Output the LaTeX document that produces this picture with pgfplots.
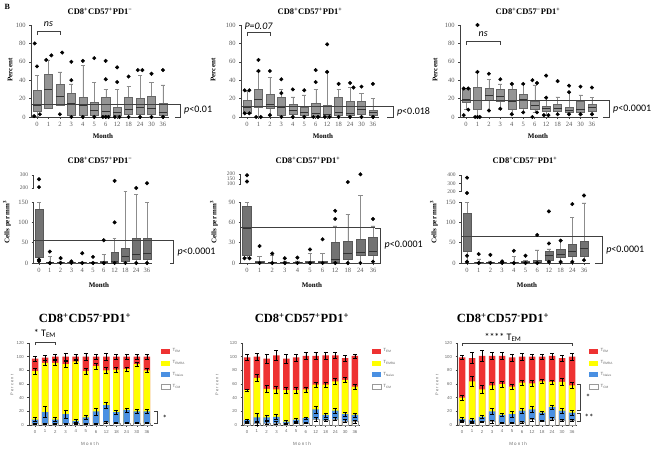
\documentclass[border=0pt]{standalone}
\usepackage{pgfplots}
\pgfplotsset{compat=1.18}
\usepackage{pgfplotstable}
\usepgfplotslibrary{statistics}
\usepackage{fontspec}
\setmainfont{Liberation Serif}
\newfontfamily\calfont{Carlito}
\newfontfamily\lsans{Liberation Sans}
\definecolor{tred}{RGB}{238,50,50}
\definecolor{tyel}{RGB}{255,255,0}
\definecolor{tblue}{RGB}{74,144,226}
\newcommand\ttl{\bfseries\fontsize{8.5}{9}\selectfont}
\newcommand\bttl{\bfseries\fontsize{12.5}{13}\selectfont}
\newcommand\lbl{\bfseries\fontsize{7}{8}\selectfont}
\newcommand\pvf{\calfont\fontsize{10}{11}\selectfont}
\newcommand\bx[6]{\addplot[bxs, boxplot prepared={draw position=#1, lower whisker=#2, lower quartile=#3, median=#4, upper quartile=#5, upper whisker=#6}] coordinates {};}
\tikzset{brk/.style={black!75, line width=0.5pt}}
\pgfplotsset{
  base/.style={scale only axis, anchor=south west, clip=false,
    axis x line*=bottom, axis y line*=left, tick align=outside,
    axis line style={black!75, line width=0.6pt},
    tick style={black!75, line width=0.5pt}, major tick length=2pt,
    ticklabel style={font=\fontsize{6.5}{7}\selectfont, text=black!65},
    /pgf/number format/assume math mode=true},
  toprow/.style={base, anchor=origin, width=137.4pt, height=92pt, xmin=-0.5, xmax=11.5,
    ymin=0, ymax=100, ytick={0,20,...,100}, xtick={0,...,11},
    xticklabels={0,1,2,3,4,5,6,12,18,24,30,36}},
  midrow/.style={base, anchor=origin, height=61pt, xmin=-0.5, xmax=10.5, ymin=0,
    xtick={0,...,10}, xticklabels={0,1,2,3,4,5,6,12,18,24,36}},
  midup/.style={base, axis x line=none, xmin=-0.5, xmax=10.5,
    ticklabel style={font=\fontsize{5.5}{6}\selectfont, text=black!65}},
  bxs/.style={draw=black!60, fill=black!42, line width=0.4pt, solid, mark=none,
    boxplot/draw direction=y,
    boxplot/box extend=0.7, boxplot/whisker extend=0.35,
    boxplot/every median/.style={draw=black!80, line width=0.6pt},
    boxplot/every whisker/.style={draw=black!45}},
  outl/.style={only marks, mark=*, mark size=1.8pt, black},
  basel/.style={black!75, line width=0.6pt, mark=none},
  botrow/.style={base, ybar, height=82pt, ymin=0, ymax=120, ytick={0,20,...,120},
    xtick={0,...,11}, xticklabels={0,1,2,3,4,5,6,12,18,24,30,36},
    ticklabel style={font=\lsans\fontsize{4.3}{4.5}\selectfont, text=black!60},
    major tick length=1.5pt,
    legend style={draw=none, fill=none, at={(1,0.98)}, anchor=north west,
      font=\lsans\fontsize{4.5}{5}\selectfont\color{black!60}, row sep=3.3pt,
      legend cell align=left},
    legend image code/.code={\path[#1] (0pt,-2.5pt) rectangle (9pt,2.5pt);}},
  segR/.style={bar width=6.5pt, bar shift=0pt, fill=tred, draw=none,
    error bars/y dir=both, error bars/y explicit,
    error bars/error bar style={black, line width=0.35pt}},
  segY/.style={segR, fill=tyel},
  segB/.style={segR, fill=tblue},
  segW/.style={segR, fill=white, draw=black!40, line width=0.3pt},
}
\pgfplotstableread{
x w b y r ew eb ey er
0 2 8 79 97 1 3 4 4
1 2 19 91 98.5 1 8 4 3
2 2 8 91 100 1 3 4 4
3 2 16 89 100 1 6 5 5
4 2 6 93 100 1 2 2 3
5 2 11 79 100 1 3 4 5
6 2 20 86 100 1 5 4 4
7 4 29 80 100 2 5 4 5
8 3 19 81 100 1 3 3 3
9 3 22 82 100 1 3 3 3
10 3 20 89 100 1 3 3 3
11 3 20 80 100 1 3 3 3
}\dataA
\pgfplotstableread{
x w b y r ew eb ey er
0 3 7 51 99 1 2 2 4
1 2 11 69 100 2 6 5 5
2 3 11 53 97 2 4 5 7
3 3 12 52 102 2 4 5 7
4 2 5 51 97 1 2 4 6
5 3 8 51 99 1 2 4 5
6 3 10 52 101 1 2 4 5
7 9 23 59 101 3 5 4 5
8 7 15 59 102 2 3 4 5
9 9 21 64 102 2 3 4 4
10 6 16 66 98 2 3 4 4
11 5 15 56 101 2 3 3 3
}\dataB
\pgfplotstableread{
x w b y r ew eb ey er
0 5 9 40 99 1 2 3 3
1 3 8 64 98 1 2 7 8
2 5 12 52 101 1 2 6 8
3 5 20 58 101 2 4 5 5
4 3 15 60 101 1 2 4 5
5 3 16 56 99 1 4 4 5
6 4 21 62 100 1 3 4 5
7 8 23 61 100 2 4 4 4
8 6 18 64 100 1 2 3 4
9 9 26 63 101 2 3 3 4
10 7 21 63 98 1 3 5 4
11 7 18 58 100 1 3 4 5
}\dataC
\begin{document}
\begin{tikzpicture}[x=1pt,y=1pt]
% ---------- panel 1 ----------
\begin{axis}[toprow, at={(37pt,331pt)}]
\bx{0}{1}{6}{13}{29}{45}
\bx{1}{10}{10}{30}{47}{62}
\bx{2}{13}{13}{22}{36}{49}
\bx{3}{2}{2}{15}{26}{36}
\bx{4}{0}{2}{13}{21}{56}
\bx{5}{0}{2}{7}{16}{38}
\bx{6}{0}{2}{6}{22}{30}
\bx{7}{0}{2}{5}{11}{30}
\bx{8}{0}{3}{8}{22}{33}
\bx{9}{0}{3}{10}{20}{45}
\bx{10}{0}{3}{9}{23}{38}
\bx{11}{0}{2}{5}{15}{35}
\addplot[outl] coordinates {(-0.2,80) (0,55) (-0.25,1) (0.25,3) (0.8,62) (1.25,67) (2.2,70) (2,3) (3,60) (3,40) (3,0) (4,61) (4,0) (5,64) (5,0) (6,61) (6,41) (5.75,0) (6,0) (6.25,0) (7,54) (7,38) (6.8,0) (7.2,0) (8,44) (8,0) (8.8,51) (9.2,51) (9,0) (10,47) (10,0) (11,51) (11,0)};
\addplot[basel] coordinates {(-0.5,14) (12.05,14)};
\draw[brk] (axis cs:0,89) |- (axis cs:2,93) -- (axis cs:2,89);
\node[font=\calfont\itshape\fontsize{10}{10}\selectfont] at (axis cs:1,101) {ns};
\draw[brk] (axis cs:12.05,14) -| (axis cs:12.5,0) -- (axis cs:12.05,0);
\node[font=\pvf, anchor=west] at (axis cs:12.55,7) {\textit{p}<0.01};
\end{axis}
% ---------- panel 2 ----------
\begin{axis}[toprow, at={(247pt,331pt)}]
\bx{0}{4}{4}{11}{18}{28}
\bx{1}{0}{11}{19}{30}{50}
\bx{2}{2}{10}{14}{25}{43}
\bx{3}{0}{2}{11}{21}{30}
\bx{4}{0}{3}{7}{14}{22}
\bx{5}{0}{2}{5}{11}{24}
\bx{6}{0}{1}{4}{15}{30}
\bx{7}{0}{1}{3}{13}{49}
\bx{8}{0}{2}{5}{21}{30}
\bx{9}{0}{2}{4}{17}{32}
\bx{10}{0}{3}{8}{17}{26}
\bx{11}{0}{2}{5}{7}{20}
\addplot[outl] coordinates {(-0.2,29) (0.2,29) (-0.2,4) (0.2,4) (1,62) (1,50) (0.8,0) (1.2,0) (2,50) (2,2) (3,41) (3,26) (3,0) (4,30) (4,0) (5,29) (5,0) (6,51) (6,38) (5.8,0) (6.2,0) (7,79) (7,49) (6.8,0) (7.2,0) (8,36) (8,0) (9,37) (9.3,32) (9,0) (10,33) (10,0) (11,36) (11,0)};
\addplot[basel] coordinates {(-0.5,12) (12.22,12)};
\draw[brk] (axis cs:0,88) |- (axis cs:2,92) -- (axis cs:2,88);
\node[font=\calfont\itshape\fontsize{10}{10}\selectfont] at (axis cs:1,99) {P=0.07};
\draw[brk] (axis cs:12.22,12) -| (axis cs:12.75,0) -- (axis cs:12.22,0);
\node[font=\pvf, anchor=west] at (axis cs:12.8,6) {\textit{p}<0.018};
\end{axis}
% ---------- panel 3 ----------
\begin{axis}[toprow, at={(466pt,331pt)}]
\bx{0}{8}{16}{19}{31}{31}
\bx{1}{0}{9}{18}{32}{49}
\bx{2}{7}{18}{24}{31}{41}
\bx{3}{9}{17}{23}{30}{36}
\bx{4}{3}{9}{17}{30}{36}
\bx{5}{5}{10}{19}{25}{36}
\bx{6}{5}{9}{13}{17}{35}
\bx{7}{2}{6}{9}{12}{21}
\bx{8}{3}{6}{9}{14}{22}
\bx{9}{3}{5}{7}{11}{27}
\bx{10}{3}{5}{8}{17}{24}
\bx{11}{3}{6}{10}{14}{21}
\addplot[outl] coordinates {(-0.2,31) (0.2,31) (0.2,8) (-0.2,2) (1,100) (1,49) (0.8,0) (1,0) (1.2,0) (2,47) (2,7) (3,41) (3,9) (4,36) (4,3) (5,36) (5,5) (5.8,40) (6.2,37) (6.2,5) (5.8,0) (7,45) (7,21) (6.8,2) (7.2,2) (8,39) (8,3) (9,34) (9,27) (9,3) (10,33) (10,3) (11,32) (11,3)};
\addplot[basel] coordinates {(-0.5,18) (11.96,18)};
\draw[brk] (axis cs:0,78) |- (axis cs:3,82) -- (axis cs:3,78);
\node[font=\calfont\itshape\fontsize{10}{10}\selectfont] at (axis cs:1.5,90) {ns};
\draw[brk] (axis cs:11.96,18) -| (axis cs:12.49,0) -- (axis cs:11.96,0);
\node[font=\pvf, anchor=west] at (axis cs:12.55,9) {\textit{p}<0.0001};
\end{axis}
\pgfplotsset{bxs/.append style={fill=black!55, draw=black!65}}
% ---------- panel 4 ----------
\begin{axis}[midrow, width=118.8pt, at={(39pt,185pt)}, ymax=150, ytick={0,50,100,150}]
\bx{0}{10}{14}{55}{133}{150}
\bx{1}{0}{0}{1}{2}{17}
\bx{2}{0}{0}{1}{3}{5}
\bx{3}{0}{0}{1}{2}{3}
\bx{4}{0}{0}{1}{2}{3}
\bx{5}{0}{0}{1}{2}{3}
\bx{6}{0}{0}{1}{5}{22}
\bx{7}{0}{1}{3}{27}{60}
\bx{8}{0}{5}{17}{37}{176}
\bx{9}{0}{10}{22}{62}{168}
\bx{10}{0}{10}{25}{60}{150}
\addplot[outl] coordinates {(0,8) (0,5) (1,28) (1,0) (2,12) (2,0) (3,4) (3,0) (4,24) (4,0) (5,15) (5,0) (6,56) (6,0) (7,100) (7,0) (8,0) (9,0) (10,0)};
\addplot[basel] coordinates {(-0.5,55) (12.13,55)};
\draw[brk] (axis cs:12.13,55) -| (axis cs:12.4,0) -- (axis cs:12.13,0);
\node[font=\pvf, anchor=west] at (axis cs:12.5,27) {\textit{p}<0.0001};
\end{axis}
\begin{axis}[midup, width=118.8pt, height=13pt, at={(33.6pt,260pt)}, ymin=200, ymax=300, ytick={200,300}]
\addplot[outl] coordinates {(0,267) (0,207) (7,255) (9,200) (10,237)};
\end{axis}
% ---------- panel 5 ----------
\begin{axis}[midrow, width=138.6pt, at={(247pt,185pt)}, ymax=90, ytick={0,30,60,90}]
\bx{0}{8}{11}{51}{84}{90}
\bx{1}{0}{0}{1}{2}{10}
\bx{2}{0}{0}{0.5}{1}{12}
\bx{3}{0}{0}{0.5}{1}{3}
\bx{4}{0}{0}{0.5}{1}{3}
\bx{5}{0}{0}{1}{3}{14}
\bx{6}{0}{0}{1}{3}{14}
\bx{7}{0}{1}{5}{30}{55}
\bx{8}{0}{5}{14}{32}{72}
\bx{9}{0}{11}{16}{35}{100}
\bx{10}{2}{11}{17}{38}{55}
\addplot[outl] coordinates {(-0.2,7) (0.2,7) (1,25) (1,0) (2,14) (2,0) (3,7) (3,0) (4,8) (4,0) (5,20) (5,0) (6,35) (6,0) (7,77) (7,65) (7,0) (8,0) (9,0) (10,65) (10,2)};
\addplot[basel] coordinates {(-0.5,52) (10.16,52)};
\draw[brk] (axis cs:10.16,52) -| (axis cs:10.55,0) -- (axis cs:10.16,0);
\node[font=\pvf, anchor=west] at (axis cs:10.65,26) {\textit{p}<0.0001};
\end{axis}
\begin{axis}[midup, width=138.6pt, height=10pt, at={(240.7pt,264pt)}, ymin=100, ymax=200, ytick={100,150,200}]
\addplot[outl] coordinates {(0,187) (0,125) (8,119) (9,197)};
\end{axis}
% ---------- panel 6 ----------
\begin{axis}[midrow, width=128.7pt, at={(467pt,185pt)}, ymax=150, ytick={0,50,100,150}]
\bx{0}{3}{30}{65}{122}{150}
\bx{1}{0}{0}{1}{1}{10}
\bx{2}{0}{0}{1}{1}{5}
\bx{3}{0}{0}{1}{3}{3}
\bx{4}{0}{0}{1}{3}{17}
\bx{5}{0}{0}{2}{5}{7}
\bx{6}{0}{0}{2}{6}{32}
\bx{7}{3}{7}{18}{28}{35}
\bx{8}{3}{15}{22}{35}{55}
\bx{9}{3}{17}{29}{47}{112}
\bx{10}{7}{16}{35}{53}{148}
\addplot[outl] coordinates {(0,172) (0,18) (0,3) (1,22) (1,0) (2,20) (2,0) (3,4) (3,0) (4,30) (4,0) (5,18) (5,0) (6,69) (6,0) (7,127) (7,48) (7,3) (8,55) (8,3) (9,145) (9,3) (10,166) (10,7)};
\addplot[basel] coordinates {(-0.5,65) (10.94,65)};
\draw[brk] (axis cs:10.94,65) -| (axis cs:11.53,0) -- (axis cs:10.94,0);
\node[font=\pvf, anchor=west] at (axis cs:11.6,32) {\textit{p}<0.0001};
\end{axis}
\begin{axis}[midup, width=128.7pt, height=16.7pt, at={(461.2pt,256.3pt)}, ymin=200, ymax=400, ytick={200,300,400}]
\addplot[outl] coordinates {(0,368)};
\end{axis}
% ---------- panel 7 ----------
\begin{axis}[botrow, width=124.2pt, at={(28.9pt,23pt)}, xmin=-0.6, xmax=11.6, legend style={xshift=5pt}]
\addplot[segR] table[x=x, y=r, y error=er] {\dataA};
\addplot[segY] table[x=x, y=y, y error=ey] {\dataA};
\addplot[segB] table[x=x, y=b, y error=eb] {\dataA};
\addplot[segW] table[x=x, y=w, y error=ew] {\dataA};
\legend{T\textsubscript{EM}, T\textsubscript{EMRA}, T\textsubscript{Naive}, T\textsubscript{CM}}
\draw[brk] (axis cs:0,117) |- (axis cs:2,121) -- (axis cs:2,117);
\node[font=\calfont\fontsize{10}{10}\selectfont, anchor=west] at (axis cs:-0.45,134) {* T\textsubscript{EM}};
\draw[brk] (axis cs:11.7,20) -| (axis cs:11.98,3) -- (axis cs:11.7,3);
\node[font=\calfont\fontsize{9}{9}\selectfont] at (axis cs:12.76,10) {*};
\end{axis}
% ---------- panel 8 ----------
\begin{axis}[botrow, width=117.8pt, at={(242.1pt,23pt)}, xmin=-0.5, xmax=11.5, legend style={xshift=9pt}]
\addplot[segR] table[x=x, y=r, y error=er] {\dataB};
\addplot[segY] table[x=x, y=y, y error=ey] {\dataB};
\addplot[segB] table[x=x, y=b, y error=eb] {\dataB};
\addplot[segW] table[x=x, y=w, y error=ew] {\dataB};
\legend{T\textsubscript{EM}, T\textsubscript{EMRA}, T\textsubscript{Naive}, T\textsubscript{CM}}
\end{axis}
% ---------- panel 9 ----------
\begin{axis}[botrow, width=120pt, at={(457pt,23pt)}, xmin=-0.5, xmax=11.5, legend style={xshift=9pt}]
\addplot[segR] table[x=x, y=r, y error=er] {\dataC};
\addplot[segY] table[x=x, y=y, y error=ey] {\dataC};
\addplot[segB] table[x=x, y=b, y error=eb] {\dataC};
\addplot[segW] table[x=x, y=w, y error=ew] {\dataC};
\legend{T\textsubscript{EM}, T\textsubscript{EMRA}, T\textsubscript{Naive}, T\textsubscript{CM}}
\draw[brk] (axis cs:0,116) |- (axis cs:11,120) -- (axis cs:11,116);
\node[font=\calfont\fontsize{10}{10}\selectfont] at (axis cs:4.1,128) {**** T\textsubscript{EM}};
\draw[brk] (axis cs:11.5,60) -| (axis cs:11.8,22) -- (axis cs:11.5,22);
\node[font=\calfont\fontsize{9}{9}\selectfont] at (axis cs:12.6,40) {*};
\draw[brk] (axis cs:11.5,17) -| (axis cs:11.8,6) -- (axis cs:11.5,6);
\node[font=\calfont\fontsize{9}{9}\selectfont] at (axis cs:12.7,11) {**};
\end{axis}
% ---------- labels ----------
\node[font=\bfseries\fontsize{8}{8}\selectfont, anchor=north west] at (1,447) {B};
\node[font=\ttl] at (100,437) {CD8\textsuperscript{+}CD57\textsuperscript{+}PD1\textsuperscript{−}};
\node[font=\ttl] at (310,437) {CD8\textsuperscript{+}CD57\textsuperscript{+}PD1\textsuperscript{+}};
\node[font=\ttl] at (528,437) {CD8\textsuperscript{+}CD57\textsuperscript{−}PD1\textsuperscript{+}};
\node[font=\ttl] at (100,288) {CD8\textsuperscript{+}CD57\textsuperscript{+}PD1\textsuperscript{−}};
\node[font=\ttl] at (308,288) {CD8\textsuperscript{+}CD57\textsuperscript{+}PD1\textsuperscript{+}};
\node[font=\ttl] at (525,288) {CD8\textsuperscript{+}CD57\textsuperscript{−}PD1\textsuperscript{+}};
\node[font=\bttl] at (85,130) {CD8\textsuperscript{+}CD57\textsuperscript{-}PD1\textsuperscript{+}};
\node[font=\bttl] at (302,130) {CD8\textsuperscript{+}CD57\textsuperscript{+}PD1\textsuperscript{+}};
\node[font=\bttl] at (503,130) {CD8\textsuperscript{+}CD57\textsuperscript{-}PD1\textsuperscript{+}};
\foreach \xx in {10,213,435} {\node[font=\lbl, rotate=90] at (\xx,378) {Percent};}
\foreach \xx in {7,214,434} {\node[font=\lbl, rotate=90] at (\xx,226) {Cells per mm\textsuperscript{3}};}
\foreach \xx in {12,217,437} {\node[font=\lsans\fontsize{4}{5}\selectfont, text=black!60, rotate=90] at (\xx,63) {P e r c e n t};}
\node[font=\lbl] at (103,312) {Month};
\node[font=\lbl] at (323,312) {Month};
\node[font=\lbl] at (538,312) {Month};
\node[font=\lbl] at (99,163) {Month};
\node[font=\lbl] at (312,163) {Month};
\node[font=\lbl] at (527,163) {Month};
\foreach \xx in {90,302,518} {\node[font=\lsans\fontsize{4.5}{5}\selectfont, text=black!60] at (\xx,4) {M o n t h};}
\pgfresetboundingbox
\path[use as bounding box] (0,0) rectangle (659,448);
\end{tikzpicture}
\end{document}
